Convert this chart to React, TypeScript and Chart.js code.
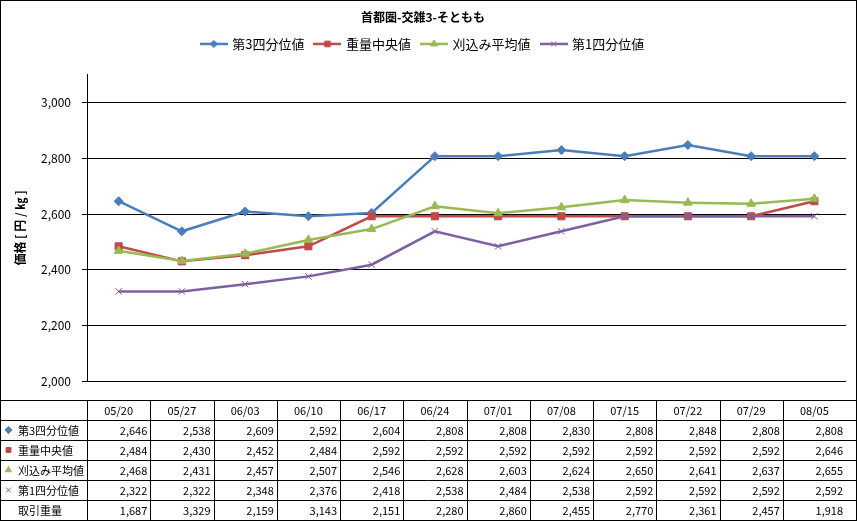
import { useEffect, useRef } from 'react';
import { Chart, registerables, layouts } from 'chart.js';
import { drawPoint } from 'chart.js/helpers';

Chart.register(...registerables);

const chartTitle = '首都圏-交雑3-そともも';
const yAxisTitle = '価格 [ 円 / ㎏ ]';
const categories = ['05/20', '05/27', '06/03', '06/10', '06/17', '06/24', '07/01', '07/08', '07/15', '07/22', '07/29', '08/05'];
const yTicks = [2000, 2200, 2400, 2600, 2800, 3000];

const q3Values = [2646, 2538, 2609, 2592, 2604, 2808, 2808, 2830, 2808, 2848, 2808, 2808];
const medianValues = [2484, 2430, 2452, 2484, 2592, 2592, 2592, 2592, 2592, 2592, 2592, 2646];
const trimmedMeanValues = [2468, 2431, 2457, 2507, 2546, 2628, 2603, 2624, 2650, 2641, 2637, 2655];
const q1Values = [2322, 2322, 2348, 2376, 2418, 2538, 2484, 2538, 2592, 2592, 2592, 2592];
const volumeValues = [1687, 3329, 2159, 3143, 2151, 2280, 2860, 2455, 2770, 2361, 2457, 1918];
const volumeName = '取引重量';

const FONT = "'Noto Sans CJK JP', 'Noto Sans', sans-serif";

const series = [
  { name: '第3四分位値', data: q3Values, color: '#4A7EBB', style: 'rectRot', radius: 4.5 },
  { name: '重量中央値', data: medianValues, color: '#BE4B48', style: 'rect', radius: 5 },
  { name: '刈込み平均値', data: trimmedMeanValues, color: '#98B954', style: 'triangle', radius: 5 },
  { name: '第1四分位値', data: q1Values, color: '#7D60A0', style: 'crossRot', radius: 4.5 },
];

const fmt = (v: number) => v.toLocaleString('en-US');

// short line with the marker in the middle, like the Excel legend
const makeLegendIcon = (color: string, style: string, radius: number) => {
  const c = document.createElement('canvas');
  c.width = 28;
  c.height = 12;
  const ctx = c.getContext('2d')!;
  ctx.strokeStyle = color;
  ctx.fillStyle = color;
  ctx.lineWidth = 2.5;
  ctx.beginPath();
  ctx.moveTo(0, 6);
  ctx.lineTo(28, 6);
  ctx.stroke();
  ctx.lineWidth = 1;
  drawPoint(ctx, { pointStyle: style as any, radius: radius * 0.8, borderWidth: 1, rotation: 0 }, 14, 6);
  return c;
};

// empty box under the legend to push the plot area down
const spacerPlugin = {
  id: 'legendSpacer',
  beforeInit(chart: any) {
    layouts.addBox(chart, {
      position: 'top',
      weight: 0,
      fullSize: true,
      options: {},
      left: 0,
      top: 0,
      right: 0,
      bottom: 0,
      width: 0,
      height: 0,
      update(this: any, maxWidth: number) {
        this.width = maxWidth;
        this.height = 14.5;
      },
      isHorizontal: () => true,
      draw() {},
    } as any);
  },
};

// data table under the plot, columns taken from the x scale
const tablePlugin = {
  id: 'dataTable',
  afterDraw(chart: any) {
    const { ctx } = chart;
    const x = chart.scales.x;
    const W = chart.width;
    const H = chart.height;
    const top = 400;
    const rowH = 20;
    const half = (x.getPixelForValue(1) - x.getPixelForValue(0)) / 2;

    ctx.save();
    ctx.strokeStyle = '#000';
    ctx.lineWidth = 1;
    ctx.beginPath();
    for (let r = 0; r < 6; r++) {
      const y = top + r * rowH + 0.5;
      ctx.moveTo(0, y);
      ctx.lineTo(W, y);
    }
    const colX = [x.left, ...categories.slice(1).map((_, i) => x.getPixelForValue(i + 1) - half)];
    colX.forEach((cx) => {
      const px = Math.round(cx) + 0.5;
      ctx.moveTo(px, top);
      ctx.lineTo(px, H);
    });
    ctx.stroke();
    ctx.strokeRect(0.5, 0.5, W - 1, H - 1);

    ctx.fillStyle = '#000';
    ctx.font = `11px ${FONT}`;
    ctx.textBaseline = 'middle';
    ctx.textAlign = 'center';
    categories.forEach((c, i) => {
      ctx.fillText(c, x.getPixelForValue(i), top + rowH / 2 + 1);
    });

    const rows = [
      ...series.map((s) => ({ name: s.name, data: s.data, color: s.color, style: s.style })),
      { name: volumeName, data: volumeValues, color: '', style: '' },
    ];
    rows.forEach((row, j) => {
      const y = top + (j + 1) * rowH + rowH / 2 + 1;
      if (row.style) {
        ctx.fillStyle = row.color;
        ctx.strokeStyle = row.color;
        ctx.lineWidth = 1;
        drawPoint(ctx, { pointStyle: row.style as any, radius: 3.5, borderWidth: 1, rotation: 0 }, 8.5, y - 1);
      }
      ctx.fillStyle = '#000';
      ctx.textAlign = 'left';
      ctx.fillText(row.name, 18, y);
      ctx.textAlign = 'right';
      row.data.forEach((v, i) => {
        ctx.fillText(fmt(v), x.getPixelForValue(i) + half - 3, y);
      });
    });
    ctx.restore();
  },
};

const App = () => {
  const canvasRef = useRef<HTMLCanvasElement | null>(null);
  const chartRef = useRef<Chart | null>(null);

  useEffect(() => {
    if (!canvasRef.current) return;
    if (chartRef.current) chartRef.current.destroy();

    const icons = series.map((s) => makeLegendIcon(s.color, s.style, s.radius));

    chartRef.current = new Chart(canvasRef.current, {
      type: 'line',
      data: {
        labels: categories,
        datasets: series.map((s, i) => ({
          label: s.name,
          data: s.data,
          borderColor: s.color,
          backgroundColor: s.color,
          borderWidth: 2.5,
          pointStyle: s.style as any,
          pointRadius: s.radius,
          pointBorderWidth: 1,
          pointBorderColor: s.color,
          pointBackgroundColor: s.color,
          tension: 0,
          order: series.length - i,
        })),
      },
      options: {
        responsive: false,
        animation: false,
        events: [],
        layout: { padding: { left: 0, right: 11, top: 0, bottom: 0 } },
        plugins: {
          tooltip: { enabled: false },
          title: {
            display: true,
            text: chartTitle,
            color: '#000',
            font: { family: FONT, size: 12, weight: 'bold' },
            padding: { top: 10, bottom: 2 },
          },
          legend: {
            display: true,
            labels: {
              color: '#000',
              font: { family: FONT, size: 13 },
              usePointStyle: true,
              pointStyleWidth: 24,
              padding: 11,
              generateLabels: () =>
                series.map((s, i) => ({
                  text: s.name,
                  pointStyle: icons[i] as any,
                  fillStyle: s.color,
                  strokeStyle: s.color,
                  lineWidth: 0,
                  hidden: false,
                  datasetIndex: i,
                  fontColor: '#000',
                })),
            },
          },
        },
        scales: {
          x: {
            type: 'category',
            offset: true,
            grid: { display: false },
            border: { display: false },
            ticks: { display: false },
            afterFit: (s: any) => {
              s.height = 140;
            },
          },
          y: {
            min: 2000,
            max: 3100,
            afterBuildTicks: (s: any) => {
              s.ticks = yTicks.map((v) => ({ value: v }));
            },
            afterFit: (s: any) => {
              s.width = 87;
            },
            grid: { color: '#000', lineWidth: 1, tickLength: 5, drawTicks: true },
            border: { display: true, color: '#000', width: 1 },
            ticks: {
              padding: 11,
              color: '#000',
              font: { family: FONT, size: 12 },
              callback: (v: any) => fmt(Number(v)),
            },
            title: {
              display: true,
              text: yAxisTitle,
              color: '#000',
              font: { family: FONT, size: 12, weight: 'bold' },
              padding: { top: 13, bottom: 0 },
            },
          },
        },
      },
      plugins: [spacerPlugin, tablePlugin],
    });

    return () => {
      if (chartRef.current) {
        chartRef.current.destroy();
        chartRef.current = null;
      }
    };
  }, []);

  return (
    <div style={{ position: 'absolute', left: 0, top: 0, width: 857, height: 521, background: '#fff' }}>
      <canvas ref={canvasRef} width={857} height={521} />
    </div>
  );
};

export default App;
